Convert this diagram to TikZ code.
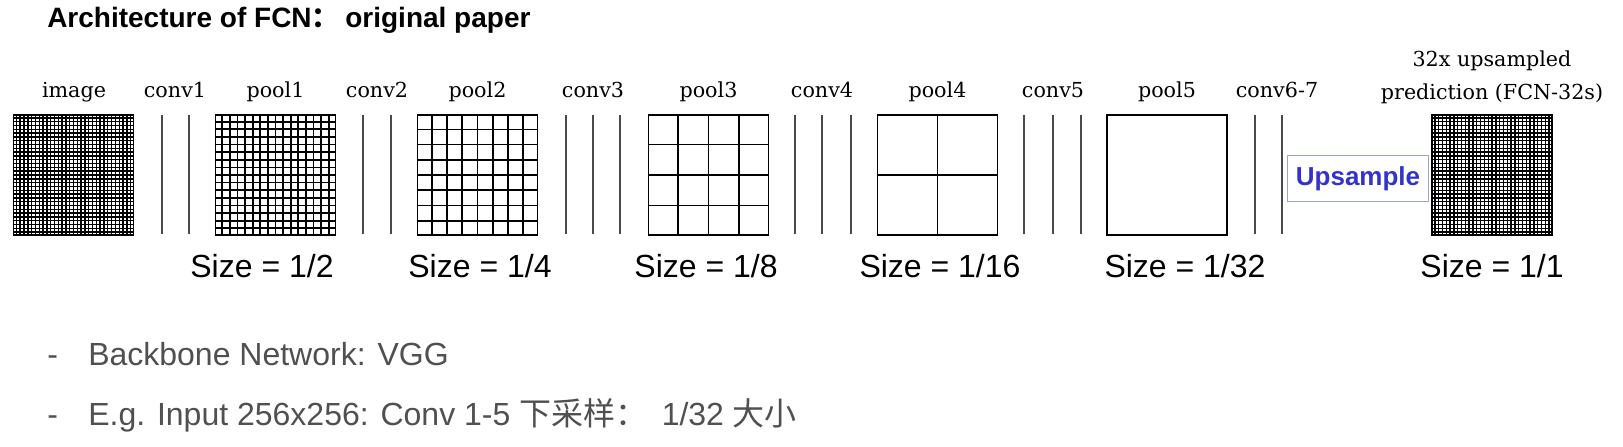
\documentclass[tikz,border=0pt]{standalone}
\usepackage{fontspec}
\setmainfont{Liberation Sans}
\newfontfamily\serf{DejaVu Serif}
\newfontfamily\cjk{Noto Sans CJK SC}
\usetikzlibrary{calc}
\definecolor{convgray}{HTML}{4A4A4A}
\definecolor{bodygray}{HTML}{505050}
\definecolor{upblue}{HTML}{3333CC}
\definecolor{upborder}{HTML}{9AA6C4}
\tikzset{
  fmap/.style={draw=black, line width=1.4pt, minimum width=90pt, minimum height=90pt, inner sep=0pt},
  convline/.style={draw=convgray, line width=1.5pt},
  lab/.style={font=\serf\fontsize{15.5pt}{18pt}\selectfont, inner sep=0pt, anchor=base},
  sizelab/.style={font=\fontsize{24pt}{28pt}\selectfont, inner sep=0pt, anchor=base},
  bodytext/.style={font=\fontsize{24pt}{28pt}\selectfont, text=bodygray, inner sep=0pt, anchor=base west},
  upbox/.style={draw=upborder, line width=0.9pt, minimum width=106pt, minimum height=34pt, inner sep=0pt,
    font=\bfseries\fontsize{19.5pt}{22pt}\selectfont, text=upblue},
}
\begin{document}
\begin{tikzpicture}[x=0.75pt,y=-0.75pt]
\useasboundingbox (0,0) rectangle (1623,446);

% title
\node[inner sep=0pt, anchor=base west, font=\bfseries\fontsize{21pt}{25pt}\selectfont] (title) at (47,27)
  {Architecture of FCN{\cjk ：}\hspace{0.2em}original paper};

% feature maps
\node[fmap] (img) at (73.5,175) {};
\node[fmap] (p1) at (275.5,175) {};
\node[fmap] (p2) at (477.5,175) {};
\node[fmap] (p3) at (708.5,175) {};
\node[fmap] (p4) at (937.5,175) {};
\node[fmap] (p5) at (1167,175) {};
\node[fmap] (pred) at (1492,175) {};

\foreach \g/\n/\w in {img/32/1.05pt, p1/16/1.3pt, p2/8/1.2pt, p3/4/1.2pt, p4/2/1.2pt, pred/32/1.05pt}{
  \pgfmathtruncatemacro\m{\n-1}
  \foreach \i in {1,...,\m}{
    \draw[line width=\w] ($(\g.north west)!{\i/\n}!(\g.north east)$) -- ($(\g.south west)!{\i/\n}!(\g.south east)$);
    \draw[line width=\w] ($(\g.north west)!{\i/\n}!(\g.south west)$) -- ($(\g.north east)!{\i/\n}!(\g.south east)$);
  }
}

% conv layers
\foreach \x in {162,189, 363,391, 566,593,620, 795,822,851, 1024,1053,1081, 1255,1282}{
  \draw[convline] (\x,115) -- (\x,234);
}

% upsample box
\node[upbox] (up) at (1358,178.5) {Upsample};

% layer labels
\node[lab] (limg) at (74,97) {image};
\node[lab] (lc1) at (175,97) {conv1};
\node[lab] (lp1) at (275.5,97) {pool1};
\node[lab] (lc2) at (377,97) {conv2};
\node[lab] (lp2) at (477.5,97) {pool2};
\node[lab] (lc3) at (593,97) {conv3};
\node[lab] (lp3) at (708.5,97) {pool3};
\node[lab] (lc4) at (822,97) {conv4};
\node[lab] (lp4) at (937.5,97) {pool4};
\node[lab] (lc5) at (1053,97) {conv5};
\node[lab] (lp5) at (1167,97) {pool5};
\node[lab] (lc67) at (1277,97) {conv6-7};
\node[lab] (lpa) at (1492,66) {32x upsampled};
\node[lab] (lpb) at (1492,99) {prediction (FCN-32s)};

% size labels
\node[sizelab] (s1) at (262,277) {Size = 1/2};
\node[sizelab] (s2) at (480,277) {Size = 1/4};
\node[sizelab] (s3) at (706,277) {Size = 1/8};
\node[sizelab] (s4) at (940,277) {Size = 1/16};
\node[sizelab] (s5) at (1185,277) {Size = 1/32};
\node[sizelab] (s6) at (1492,277) {Size = 1/1};

% bullet text
\node[bodytext] (d1) at (47,365) {-};
\node[bodytext] (b1) at (88,365) {Backbone Network: VGG};
\node[bodytext] (d2) at (47,425) {-};
\node[bodytext] (b2) at (88,425) {E.g. Input 256x256: Conv 1-5 {\cjk 下采样：}\hspace{0.45em}1/32 {\cjk 大小}};
\end{tikzpicture}
\end{document}
